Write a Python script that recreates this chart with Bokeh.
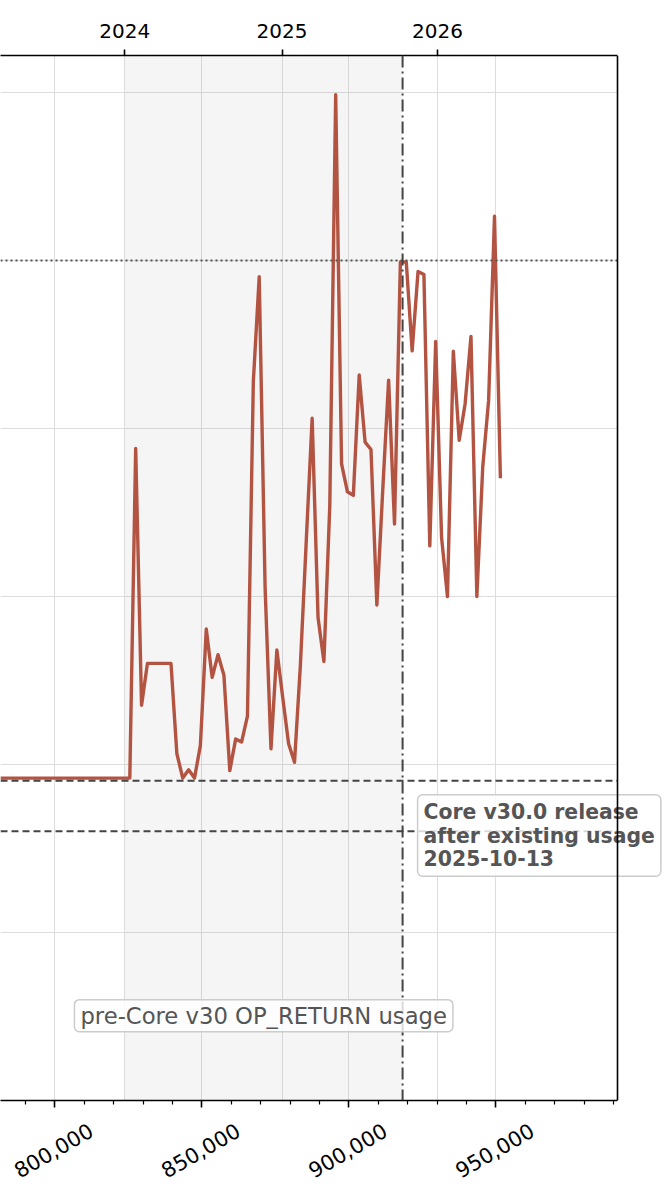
import math
from bokeh.plotting import figure
from bokeh.models import (Range1d, FixedTicker, LinearAxis, Grid, Span,
                          BoxAnnotation, Label, CustomJSTickFormatter)
from bokeh.embed import file_html
from bokeh.resources import INLINE

# ---------------- data ----------------
block_heights = [
    781500, 783500, 785500, 787500, 789500, 791500, 793500, 795500, 797500, 799500,
    801500, 803500, 805500, 807500, 809500, 811500, 813500, 815500, 817500, 819500,
    821500, 823500, 825500,
    827500, 829500, 831500, 833500, 835500, 837500, 839500, 841500, 843500, 845500,
    847500, 849500, 851500, 853500, 855500, 857500, 859500, 861500, 863500, 865500,
    867500, 869500, 871500, 873500, 875500, 877500, 879500, 881500, 883500, 885500,
    887500, 889500, 891500, 893500, 895500, 897500, 899500, 901500, 903500, 905500,
    907500, 909500, 911500, 913500, 915500, 917500, 919500, 921500, 923500, 925500,
    927500, 929500, 931500, 933500, 935500, 937500, 939500, 941500, 943500, 945500,
    947500, 949500, 951500,
]
max_op_return_bytes = [
    83, 83, 83, 83, 83, 83, 83, 83, 83, 83,
    83, 83, 83, 83, 83, 83, 83, 83, 83, 83,
    83, 83, 83,
    7600, 225, 400, 400, 400, 400, 400, 116, 83, 93,
    83, 130, 640, 330, 450, 340, 92, 142, 136, 194,
    19000, 80000, 1130, 124, 480, 250, 133, 103, 390, 2150,
    11500, 750, 410, 3500, 970000, 6150, 4200, 4000, 20800, 8300,
    7500, 890, 4300, 19400, 2700, 98000, 98000, 29000, 86000, 82500,
    2000, 33000, 2250, 1000, 28800, 8500, 14000, 35300, 1000, 5900,
    14700, 183500, 5060,
]

x_major_ticks = [800000, 850000, 900000, 950000]
x_minor_ticks = [790000, 810000, 820000, 830000, 840000, 860000, 870000, 880000,
                 890000, 910000, 920000, 930000, 940000, 960000, 970000, 980000, 990000]
x_tick_labels = ["800,000", "850,000", "900,000", "950,000"]
year_ticks = [823786, 877260, 930100]
year_labels = ["2024", "2025", "2026"]
y_grid_ticks = [1, 10, 100, 1000, 10000, 100000, 1000000]

old_limit_bytes = 40
standard_limit_bytes = 80
new_limit_bytes = 100000
core_v30_block = 918250
shade_start_block = 823786

x_start, x_spine, x_end = 781538, 991318, 1008658
y_start, y_end = 1, 1.66e6

release_text = "Core v30.0 release\nafter existing usage\n2025-10-13"
shade_text = "pre-Core v30 OP_RETURN usage"

# label anchor shift (rotated tick labels are centred under their tick)
label_shift = 12300

# ---------------- figure ----------------
p = figure(width=668, height=1200,
           x_range=Range1d(x_start, x_end), y_range=Range1d(y_start, y_end),
           y_axis_type="log", y_axis_location=None, x_axis_location="below",
           output_backend="svg", toolbar_location=None,
           min_border_left=0, min_border_right=0, min_border_top=55, min_border_bottom=100,
           outline_line_color=None, background_fill_color="white", border_fill_color="white")

GRID = "#dddddd"
p.ygrid.ticker = FixedTicker(ticks=y_grid_ticks)
p.ygrid.grid_line_color = GRID
p.ygrid.grid_line_width = 1

# bottom axis: ticks only
xa = p.xaxis[0]
xa.ticker = FixedTicker(ticks=x_major_ticks, minor_ticks=x_minor_ticks)
xa.formatter = CustomJSTickFormatter(code="return ''")
xa.major_label_text_font_size = "0px"
xa.major_label_standoff = 0
xa.bounds = (x_start, x_spine)
xa.axis_line_width = 1.6
xa.axis_line_color = "black"
xa.major_tick_out = 7
xa.major_tick_in = 0
xa.minor_tick_out = 4
xa.minor_tick_in = 0
xa.major_tick_line_width = 1.6
xa.minor_tick_line_width = 1.2
p.xgrid.grid_line_color = GRID
p.xgrid.grid_line_width = 1

# bottom axis: rotated labels
label_axis = LinearAxis(
    ticker=FixedTicker(ticks=[t + label_shift for t in x_major_ticks]),
    major_label_overrides={t + label_shift: l for t, l in zip(x_major_ticks, x_tick_labels)},
    axis_line_color=None, major_tick_line_color=None, minor_tick_line_color=None,
    major_tick_out=0, major_tick_in=0, minor_tick_out=0, minor_tick_in=0,
    major_label_orientation=math.pi / 6, major_label_standoff=21,
    major_label_text_font="DejaVu Sans", major_label_text_font_size="21px",
    major_label_text_color="black")
p.add_layout(label_axis, "below")

top_axis = LinearAxis(ticker=FixedTicker(ticks=year_ticks),
                      major_label_overrides={t: l for t, l in zip(year_ticks, year_labels)},
                      bounds=(x_start, x_spine),
                      major_tick_out=6, major_tick_in=0, minor_tick_out=0, minor_tick_in=0,
                      axis_line_width=1.6, major_tick_line_width=1.6,
                      major_label_text_font="DejaVu Sans", major_label_text_font_size="20px",
                      major_label_text_color="black", major_label_standoff=12)
p.add_layout(top_axis, "above")
p.add_layout(Grid(dimension=0, ticker=FixedTicker(ticks=year_ticks),
                  grid_line_color=GRID, grid_line_width=1))

p.add_layout(BoxAnnotation(left=shade_start_block, right=core_v30_block,
                           fill_color="#808080", fill_alpha=0.08, line_color=None,
                           level="underlay"))

p.line(x=block_heights, y=max_op_return_bytes, line_color="#b35442", line_width=3.4,
       line_join="round")

p.add_layout(Span(location=standard_limit_bytes, dimension="width", line_color="#444444",
                  line_dash="7 4", line_width=2))
p.add_layout(Span(location=old_limit_bytes, dimension="width", line_color="#444444",
                  line_dash="7 4", line_width=2))
p.add_layout(Span(location=new_limit_bytes, dimension="width", line_color="#555555",
                  line_dash="2 3", line_width=2))
p.add_layout(Span(location=core_v30_block, dimension="height", line_color="#444444",
                  line_dash="12 4 2 4", line_width=2))

# blank margin right of the plot spine
p.add_layout(BoxAnnotation(left=x_spine, fill_color="white", fill_alpha=1.0, line_color=None,
                           level="annotation"))

p.add_layout(Label(x=(shade_start_block + core_v30_block) / 2, y=3.2, text=shade_text,
                   text_align="center", text_baseline="middle",
                   text_font="DejaVu Sans", text_font_size="22.7px", text_color="#555555",
                   background_fill_color="white", background_fill_alpha=0.8,
                   border_line_color="#cccccc", border_line_width=1.5,
                   padding=(6, 3), border_radius=5))

p.add_layout(Label(x=core_v30_block, x_offset=15, y=standard_limit_bytes, y_offset=-14,
                   text=release_text, text_align="left", text_baseline="top",
                   text_font="DejaVu Sans", text_font_style="bold", text_font_size="20.4px",
                   text_color="#555555", text_line_height=0.99,
                   background_fill_color="white", background_fill_alpha=0.8,
                   border_line_color="#cccccc", border_line_width=1.5,
                   padding=(6, 5), border_radius=5))

# right spine
p.add_layout(Span(location=x_spine, dimension="height", line_color="black", line_width=1.6,
                  level="overlay"))

open("out.html", "w").write(file_html(p, INLINE))
